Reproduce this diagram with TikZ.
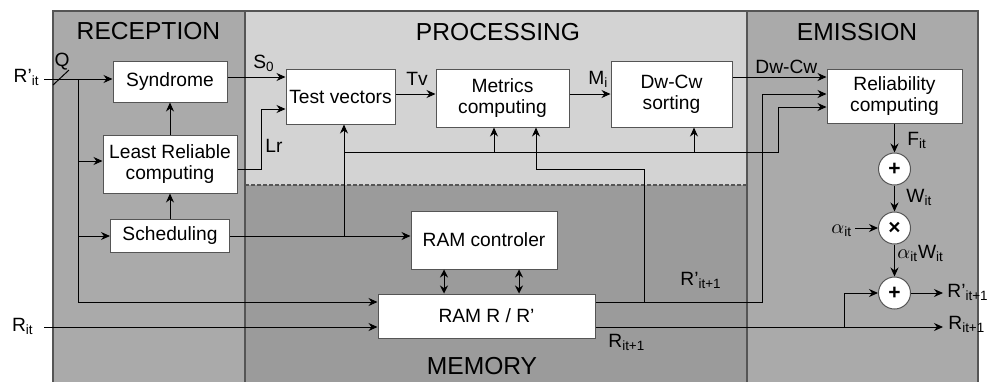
\documentclass[tikz,border=0pt]{standalone}
\usepackage{fontspec}
\setmainfont{Liberation Sans}
\usetikzlibrary{arrows.meta}
\definecolor{recgray}{RGB}{170,170,170}
\definecolor{progray}{RGB}{211,211,211}
\definecolor{memgray}{RGB}{155,155,155}
\definecolor{edgegray}{RGB}{85,85,85}
\newcommand\sbt[1]{\textsubscript{#1}}
\begin{document}
\begin{tikzpicture}[x=0.5pt,y=-0.5pt,
 box/.style={draw=edgegray, fill=white, line width=0.5pt, inner sep=0.5pt, align=center, font=\fontsize{9.6}{10.5}\selectfont},
 sumnode/.style={circle, draw=edgegray, fill=white, line width=0.5pt, minimum size=16pt, inner sep=0pt, font=\bfseries\fontsize{10.5}{10.5}\selectfont},
 arr/.style={-{Stealth[length=4.5pt,width=4pt]}},
 darr/.style={{Stealth[length=4pt,width=4pt]}-{Stealth[length=4pt,width=4pt]}},
 wire/.style={line width=0.5pt, black},
 lbl/.style={font=\fontsize{9.6}{11}\selectfont, inner sep=0pt},
 title/.style={font=\fontsize{12.3}{14}\selectfont, inner sep=0pt},
 panel/.style={draw=edgegray, line width=0.6pt}]
\useasboundingbox (0,0) rectangle (990,381);
\begin{scope}
\clip (0,0) rectangle (990,381);
\fill[recgray] (53,11) rectangle (245,390);
\fill[progray] (245,11) rectangle (747,185);
\fill[memgray] (245,185) rectangle (747,390);
\fill[recgray] (747,11) rectangle (978,390);
\draw[panel] (53,390) -- (53,11) -- (978,11) -- (978,390);
\draw[panel] (245,11) -- (245,390);
\draw[panel] (747,11) -- (747,390);
\draw[panel, dash pattern=on 2pt off 1pt] (245,185) -- (747,185);
\end{scope}

% titles
\node[title] (trec) at (148.5,31) {RECEPTION};
\node[title] (tpro) at (498,32) {PROCESSING};
\node[title] (temi) at (857,32) {EMISSION};
\node[title] (tmem) at (482,366) {MEMORY};

% boxes
\node[box, minimum width=57pt, minimum height=20.5pt] (syn) at (170,81.5) {Syndrome};
\node[box, minimum width=67pt, minimum height=29pt] (lrc) at (170,164) {Least Reliable\\computing};
\node[box, minimum width=59.5pt, minimum height=16.5pt] (sch) at (170,235.5) {Scheduling};
\node[box, minimum width=54.5pt, minimum height=27.5pt] (tv) at (340.5,96.5) {Test vectors};
\node[box, minimum width=66.5pt, minimum height=29pt] (met) at (502.5,98) {Metrics\\computing};
\node[box, minimum width=60.5pt, minimum height=33pt] (dw) at (671.5,94) {Dw-Cw\\sorting};
\node[box, minimum width=67.5pt, minimum height=27pt] (rel) at (894.5,96) {Reliability\\computing};
\node[box, minimum width=73pt, minimum height=29pt] (ramc) at (484,240) {RAM controler};
\node[box, minimum width=108.5pt, minimum height=22pt] (ram) at (486.5,316) {RAM R / R’};
\node[sumnode] (s1) at (894.5,169) {+};
\node[sumnode] (mul) at (894.5,228) {×};
\node[sumnode] (s2) at (894.5,293) {+};

% coordinates
\coordinate (rin) at (44,79);
\coordinate (j0) at (78,79);
\coordinate (j1) at (78,161);
\coordinate (j2) at (78,236);
\coordinate (j0b) at (78,302);
\coordinate (rit) at (44,327);
\coordinate (s0) at (250,77);
\coordinate (lr1) at (261,169);
\coordinate (lr2) at (261,109);
\coordinate (tvy) at (0,94);
\coordinate (schy) at (0,236);
\coordinate (k1) at (344,236);
\coordinate (k2) at (344,152);
\coordinate (k3) at (494,152);
\coordinate (k4) at (694,152);
\coordinate (k5) at (778,152);
\coordinate (k6) at (778,107);
\coordinate (m1) at (644,302);
\coordinate (m2) at (644,169);
\coordinate (m3) at (536,169);
\coordinate (r1) at (762,302);
\coordinate (r2) at (762,94);
\coordinate (dwy) at (0,77);
\coordinate (rout) at (943,327);
\coordinate (q1) at (844,327);
\coordinate (q2) at (844,293);
\coordinate (rpout) at (943,293);
\coordinate (ain) at (855,228);
\coordinate (d1) at (444,0);
\coordinate (d2) at (519,0);
\coordinate (sl1) at (53,85);
\coordinate (sl2) at (69,70);

% reception wires
\draw[wire,arr] (rin) -- (syn.west |- rin);
\draw[wire] (sl1) -- (sl2);
\draw[wire] (j0) -- (j0b);
\draw[wire,arr] (j1) -- (lrc.west |- j1);
\draw[wire,arr] (j2) -- (sch.west |- j2);
\draw[wire,arr] (j0b) -- (ram.west |- j0b);
\draw[wire,arr] (rit) -- (ram.west |- rit);
\draw[wire,arr] (lrc.north) -- (syn.south);
\draw[wire,arr] (sch.north) -- (lrc.south);

% processing wires
\draw[wire,arr] (syn.east |- s0) -- (tv.west |- s0);
\draw[wire,arr] (lrc.east |- lr1) -- (lr1) -- (lr2) -- (tv.west |- lr2);
\draw[wire,arr] (tv.east |- tvy) -- (met.west |- tvy);
\draw[wire,arr] (met.east |- tvy) -- (dw.west |- tvy);
\draw[wire,arr] (dw.east |- dwy) -- (rel.west |- dwy);
\draw[wire,arr] (sch.east |- schy) -- (ramc.west |- schy);
\draw[wire,arr] (k1) -- (tv.south -| k1);
\draw[wire,arr] (k2) -- (k5) -- (k6) -- (rel.west |- k6);
\draw[wire,arr] (k3) -- (met.south -| k3);
\draw[wire,arr] (k4) -- (dw.south -| k4);

% memory wires
\draw[wire,darr] (ramc.south -| d1) -- (ram.north -| d1);
\draw[wire,darr] (ramc.south -| d2) -- (ram.north -| d2);
\draw[wire,arr] (ram.east |- r1) -- (r1) -- (r2) -- (rel.west |- r2);
\draw[wire,arr] (m1) -- (m2) -- (m3) -- (met.south -| m3);
\draw[wire,arr] (ram.east |- rout) -- (rout);

% emission wires
\draw[wire,arr] (rel.south) -- (s1.north);
\draw[wire,arr] (s1.south) -- (mul.north);
\draw[wire,arr] (mul.south) -- (s2.north);
\draw[wire,arr] (ain) -- (mul.west);
\draw[wire,arr] (q1) -- (q2) -- (s2.west);
\draw[wire,arr] (s2.east) -- (rpout);

% labels
\node[lbl, anchor=base east] (lrin) at (40,82) {R’\sbt{it}};
\node[lbl, anchor=base east] (lrit) at (34,331) {R\sbt{it}};
\node[lbl] (lq) at (62,62) {Q};
\node[lbl, anchor=base west] (ls0) at (253,68) {S\sbt{0}};
\node[lbl, anchor=base west] (llr) at (265,152) {Lr};
\node[lbl, anchor=base west] (ltv) at (406,85) {Tv};
\node[lbl, anchor=base west] (lmi) at (588,84) {M\sbt{i}};
\node[lbl, anchor=base west] (ldw) at (755,73) {Dw-Cw};
\node[lbl, anchor=base west] (lfit) at (907,145) {F\sbt{it}};
\node[lbl, anchor=base west] (lwit) at (906,202) {W\sbt{it}};
\node[lbl, anchor=base west] (lait) at (831,233) {$\alpha$\sbt{it}};
\node[lbl, anchor=base west] (law) at (897,258) {$\alpha$\sbt{it}W\sbt{it}};
\node[lbl, anchor=base west] (lrp1) at (947,297) {R’\sbt{it+1}};
\node[lbl, anchor=base west] (lr1) at (948,329) {R\sbt{it+1}};
\node[lbl, anchor=base west] (lrpm) at (680,285) {R’\sbt{it+1}};
\node[lbl, anchor=base west] (lrm) at (608,347) {R\sbt{it+1}};
\end{tikzpicture}
\end{document}
